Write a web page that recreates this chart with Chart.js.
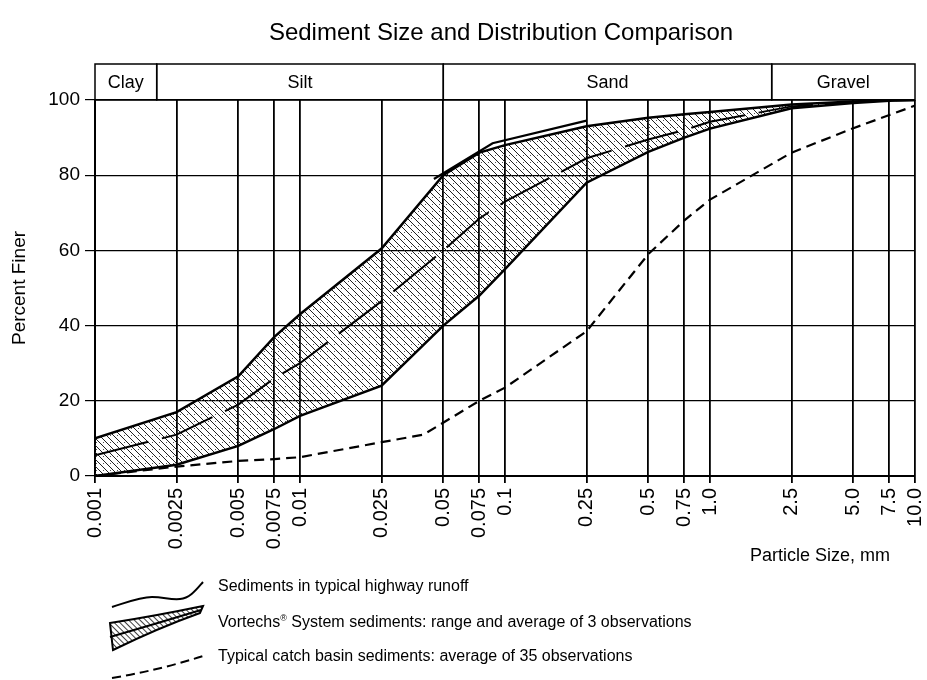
<!DOCTYPE html>
<html lang="en">
<head>
<meta charset="utf-8">
<title>Sediment Size and Distribution Comparison</title>
<script src="https://cdn.jsdelivr.net/npm/chart.js@4.4.1/dist/chart.umd.min.js"></script>
<style>
  html, body { margin: 0; padding: 0; background: #fff; }
  #page { position: relative; width: 927px; height: 680px; overflow: hidden;
          font-family: "Liberation Sans", Arial, Helvetica, sans-serif; }
  #chart { position: absolute; left: 0; top: 0; }
  #key { position: absolute; left: 0; top: 560px; width: 927px; height: 120px; }
  #key svg { position: absolute; left: 0; top: 0; }
  .key-label { position: absolute; left: 218px; font-size: 16px; line-height: 19px; color: #000;
               white-space: nowrap; transform: translateY(-50%); }
  .reg { font-size: 9px; vertical-align: 6px; }
</style>
</head>
<body>
<div id="page">
  <canvas id="chart" width="927" height="680"></canvas>
  <div id="key">
    <svg width="230" height="120" viewBox="0 0 230 120">
      <defs>
        <pattern id="keyHatch" width="4" height="4" patternUnits="userSpaceOnUse" patternTransform="rotate(-45)">
          <line x1="0" y1="0" x2="0" y2="4" stroke="#000" stroke-width="1.5"/>
        </pattern>
      </defs>
      <path d="M112 47 C128 42 140 37 152 37 C164 37 170 40 180 39 C190 38 196 30 203 22"
            fill="none" stroke="#000" stroke-width="2"/>
      <path d="M110 63 Q155 56 203 46 L200 53 Q158 68 113 90 Z"
            fill="url(#keyHatch)" stroke="#000" stroke-width="2"/>
      <path d="M110 77 Q155 64 201 50" fill="none" stroke="#000" stroke-width="2"/>
      <path d="M112 118 Q160 110 203 96" fill="none" stroke="#000" stroke-width="2" stroke-dasharray="9 5"/>
    </svg>
    <div class="key-label" style="top:25px">Sediments in typical highway runoff</div>
    <div class="key-label" style="top:60px">Vortechs<span class="reg">®</span> System sediments: range and average of 3 observations</div>
    <div class="key-label" style="top:95px">Typical catch basin sediments: average of 35 observations</div>
  </div>
</div>
<script>
// Particle-size axis: tick positions (mm) and their printed labels
const sizeTicks = [0.001, 0.0025, 0.005, 0.0075, 0.01, 0.025, 0.05, 0.075, 0.1, 0.25, 0.5, 0.75, 1.0, 2.5, 5.0, 7.5, 10.0];
const sizeLabels = ['0.001', '0.0025', '0.005', '0.0075', '0.01', '0.025', '0.05', '0.075', '0.1', '0.25', '0.5', '0.75', '1.0', '2.5', '5.0', '7.5', '10.0'];
const percentTicks = [0, 20, 40, 60, 80, 100];

// Soil classes in the band across the top of the plot
const classNames = ['Clay', 'Silt', 'Sand', 'Gravel'];
const classEdges = [0.001, 0.002, 0.05, 2, 10];

// Vortechs System sediments: range (max / min) and average of 3 observations
const vortechsSizes = [0.001, 0.0025, 0.005, 0.0075, 0.01, 0.025, 0.05, 0.075, 0.1, 0.25, 0.5, 0.75, 1.0, 2.5, 5.0, 7.5, 10.0];
const vortechsMax = [10, 17, 26.5, 37, 43, 60.5, 80, 86, 88, 93, 95.3, 96.2, 96.8, 98.8, 99.6, 100, 100];
const vortechsAvg = [5.5, 11, 19, 26, 30, 46.5, 60, 68.5, 73, 84.5, 89.5, 92, 94.2, 98.3, 99.4, 99.9, 100];
const vortechsMin = [0, 3, 8, 12.5, 16, 24, 40, 48, 55, 78, 86.2, 90, 92.4, 97.8, 99.2, 99.8, 100];

// Sediments in typical highway runoff
const highwaySizes = [0.045, 0.087, 0.25];
const highwayFiner = [79, 88.5, 94.5];

// Typical catch basin sediments: average of 35 observations
const catchSizes = [0.001, 0.0025, 0.005, 0.0075, 0.01, 0.025, 0.04, 0.075, 0.1, 0.25, 0.5, 0.75, 1.0, 2.5, 5.0, 7.5, 10.0];
const catchFiner = [0, 2.5, 4, 4.5, 5, 9, 11, 20, 23.5, 38.5, 59, 68, 73.5, 86, 92.5, 96, 98.5];

const FONT = '"Liberation Sans", Arial, Helvetica, sans-serif';
const TITLE = 'Sediment Size and Distribution Comparison';
const X_CAPTION = 'Particle Size, mm';
Chart.defaults.font.family = FONT;
Chart.defaults.color = '#000';

const pts = (xs, ys) => xs.map((x, i) => ({ x, y: ys[i] }));

// Diagonal hatching with fine dots for the observed range
function hatchPattern() {
  const s = 7;
  const c = document.createElement('canvas');
  c.width = s; c.height = s;
  const g = c.getContext('2d');
  g.strokeStyle = '#222';
  g.lineWidth = 1;
  g.beginPath();
  for (const k of [-s, 0, s]) { g.moveTo(k - 1, -1); g.lineTo(k + s + 1, s + 1); }
  g.stroke();
  g.fillStyle = '#555';
  g.fillRect(5, 1, 1, 1);
  return g.createPattern(c, 'repeat');
}

// Title over the plot, class boxes above it and the particle-size caption
const frameText = {
  id: 'frameText',
  afterDraw(chart) {
    const { ctx, chartArea: a, scales: { x } } = chart;
    const top = a.top - 36;
    ctx.save();
    ctx.fillStyle = '#000';
    ctx.textAlign = 'center';
    ctx.textBaseline = 'middle';

    ctx.font = '24px ' + FONT;
    ctx.fillText(TITLE, (a.left + a.right) / 2 - 4, 33);

    ctx.strokeStyle = '#000';
    ctx.lineWidth = 1.5;
    ctx.font = '18px ' + FONT;
    classNames.forEach((name, i) => {
      const x0 = x.getPixelForValue(classEdges[i]);
      const x1 = x.getPixelForValue(classEdges[i + 1]);
      ctx.strokeRect(x0, top, x1 - x0, a.top - top);
      ctx.fillText(name, (x0 + x1) / 2, (top + a.top) / 2 + 1);
    });

    ctx.font = '18px ' + FONT;
    ctx.fillText(X_CAPTION, a.right - 95, a.bottom + 80);
    ctx.restore();
  }
};

new Chart(document.getElementById('chart'), {
  type: 'line',
  data: {
    datasets: [
      { label: 'Sediments in typical highway runoff', data: pts(highwaySizes, highwayFiner),
        borderColor: '#000', borderWidth: 2.2, fill: false },
      { label: 'Vortechs range (max)', data: pts(vortechsSizes, vortechsMax),
        borderColor: '#000', borderWidth: 2.5, fill: false },
      { label: 'Vortechs average', data: pts(vortechsSizes, vortechsAvg),
        borderColor: '#000', borderWidth: 2, borderDash: [55, 14], fill: false },
      { label: 'Vortechs range (min)', data: pts(vortechsSizes, vortechsMin),
        borderColor: '#000', borderWidth: 2.5, backgroundColor: hatchPattern(), fill: '-2' },
      { label: 'Typical catch basin sediments', data: pts(catchSizes, catchFiner),
        borderColor: '#000', borderWidth: 2.2, borderDash: [10, 6], fill: false }
    ]
  },
  options: {
    responsive: false,
    animation: false,
    devicePixelRatio: 1,
    elements: { point: { radius: 0 }, line: { tension: 0 } },
    layout: { padding: { left: 0, right: 12, top: 100, bottom: 0 } },
    plugins: {
      legend: { display: false },
      tooltip: { enabled: false },
      filler: { drawTime: 'beforeDatasetsDraw' },
      title: { display: false }
    },
    scales: {
      x: {
        type: 'logarithmic',
        min: 0.001,
        max: 10,
        afterBuildTicks: s => { s.ticks = sizeTicks.map(v => ({ value: v })); },
        afterFit: s => { s.height = 204; s.paddingRight = 0; s.paddingLeft = 0; },
        ticks: {
          autoSkip: false, minRotation: 90, maxRotation: 90, padding: 5,
          font: { size: 20 }, color: '#000',
          callback: (v, i) => sizeLabels[i]
        },
        grid: { color: '#000', lineWidth: 1.8, drawTicks: true, tickLength: 7 },
        border: { color: '#000', width: 2 }
      },
      y: {
        min: 0,
        max: 100,
        afterBuildTicks: s => { s.ticks = percentTicks.map(v => ({ value: v })); },
        afterFit: s => { s.width = 95; },
        ticks: { padding: 5, font: { size: 19 }, color: '#000' },
        grid: { color: '#000', lineWidth: 1.2, tickLength: 10 },
        border: { color: '#000', width: 2 },
        title: {
          display: true, text: 'Percent Finer', font: { size: 19 }, color: '#000',
          padding: { top: 8, bottom: 0 }
        }
      }
    }
  },
  plugins: [frameText]
});
</script>
</body>
</html>
